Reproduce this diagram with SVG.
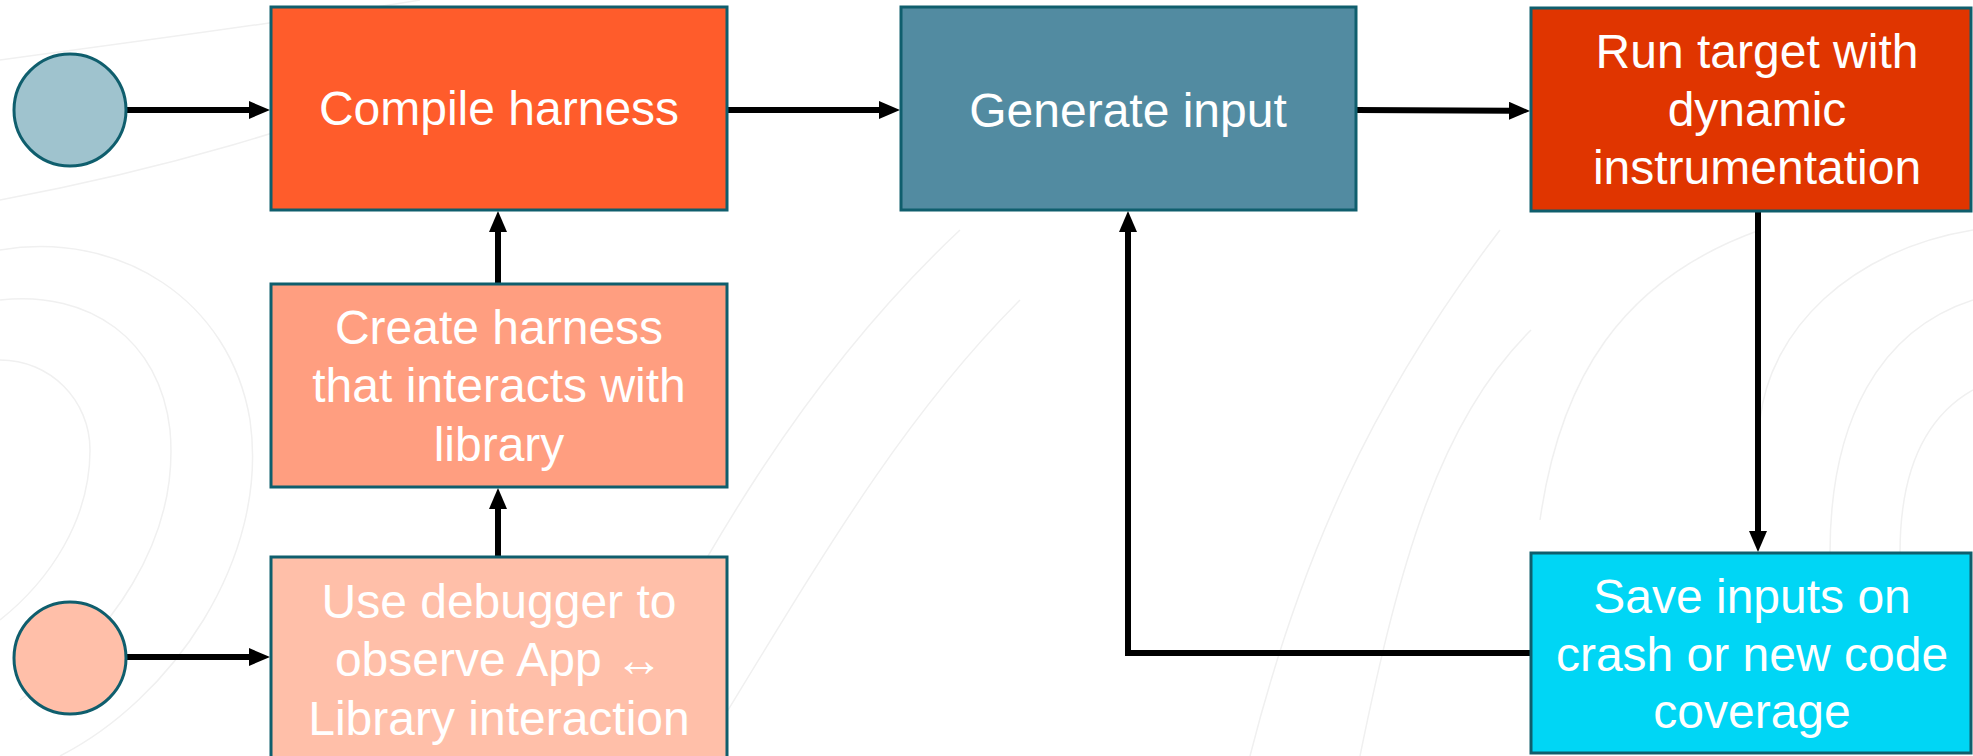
<svg xmlns="http://www.w3.org/2000/svg" width="1973" height="756" viewBox="0 0 1973 756">
<defs>
<style>
.box{stroke:#0F5E6D;stroke-width:3}
.lbl{font-family:"Liberation Sans",Arial,sans-serif;font-size:48px;fill:#ffffff;text-anchor:middle}
.con{fill:none;stroke:#000;stroke-width:6}
.bg{fill:none;stroke:#f0f0f0;stroke-width:1.5}
</style>
<marker id="ah" markerUnits="userSpaceOnUse" markerWidth="22" markerHeight="20" refX="3" refY="9" orient="auto">
<path d="M0,0 L21,9 L0,18 Z" fill="#000"/>
</marker>
</defs>
<rect width="1973" height="756" fill="#ffffff"/>
<g id="background">
<path class="bg" d="M0,250 C120,230 230,300 250,420 C270,560 170,700 60,756"/>
<path class="bg" d="M0,300 C90,290 160,340 170,430 C180,540 110,640 20,700"/>
<path class="bg" d="M0,360 C50,360 90,400 90,450 C90,520 50,580 0,620"/>
<path class="bg" d="M0,60 C150,40 300,20 420,0"/>
<path class="bg" d="M0,200 C160,170 300,130 480,60"/>
<path class="bg" d="M600,756 C700,560 800,380 960,230"/>
<path class="bg" d="M700,756 C820,560 900,420 1020,300"/>
<path class="bg" d="M1250,756 C1300,560 1370,400 1500,230"/>
<path class="bg" d="M1360,756 C1400,560 1440,420 1531,330"/>
<path class="bg" d="M1540,520 C1560,380 1620,280 1760,230"/>
<path class="bg" d="M1973,300 C1880,330 1830,420 1830,553"/>
<path class="bg" d="M1973,390 C1920,420 1900,480 1900,553"/>
<path class="bg" d="M1973,230 C1850,250 1770,330 1760,420"/>
</g>
<g id="connectors">
<path class="con" d="M126,110 L252,110" marker-end="url(#ah)"/>
<path class="con" d="M126,657 L252,657" marker-end="url(#ah)"/>
<path class="con" d="M498,557 L498,506" marker-end="url(#ah)"/>
<path class="con" d="M498,284 L498,229" marker-end="url(#ah)"/>
<path class="con" d="M727,110 L882,110" marker-end="url(#ah)"/>
<path class="con" d="M1356,110 L1512,110.8" marker-end="url(#ah)"/>
<path class="con" d="M1758,211 L1758,534" marker-end="url(#ah)"/>
<path class="con" d="M1531,653 L1128,653 L1128,229" marker-end="url(#ah)"/>
</g>
<g id="start1"><circle class="box" cx="70" cy="110" r="56" fill="#9FC3CE"/></g>
<g id="start2"><circle class="box" cx="70" cy="658" r="56" fill="#FFBFA9"/></g>
<g id="compile">
<rect class="box" x="271" y="7" width="456" height="203" fill="#FF5C2B"/>
<text class="lbl" x="499" y="125">Compile harness</text>
</g>
<g id="create">
<rect class="box" x="271" y="284" width="456" height="203" fill="#FF9E80"/>
<text class="lbl" x="499" y="344">Create harness</text>
<text class="lbl" x="499" y="402">that interacts with</text>
<text class="lbl" x="499" y="461">library</text>
</g>
<g id="debugger">
<rect class="box" x="271" y="557" width="456" height="205" fill="#FFBFA9"/>
<text class="lbl" x="499" y="618">Use debugger to</text>
<text class="lbl" x="499" y="676">observe App ↔</text>
<text class="lbl" x="499" y="735">Library interaction</text>
</g>
<g id="generate">
<rect class="box" x="901" y="7" width="455" height="203" fill="#528BA1"/>
<text class="lbl" x="1128" y="127">Generate input</text>
</g>
<g id="run">
<rect class="box" x="1531" y="8" width="440" height="203" fill="#E03500"/>
<text class="lbl" x="1757" y="68">Run target with</text>
<text class="lbl" x="1757" y="126">dynamic</text>
<text class="lbl" x="1757" y="184">instrumentation</text>
</g>
<g id="save">
<rect class="box" x="1531" y="553" width="440" height="200" fill="#00D6F5"/>
<text class="lbl" x="1752" y="613">Save inputs on</text>
<text class="lbl" x="1752" y="671">crash or new code</text>
<text class="lbl" x="1752" y="728">coverage</text>
</g>
</svg>
